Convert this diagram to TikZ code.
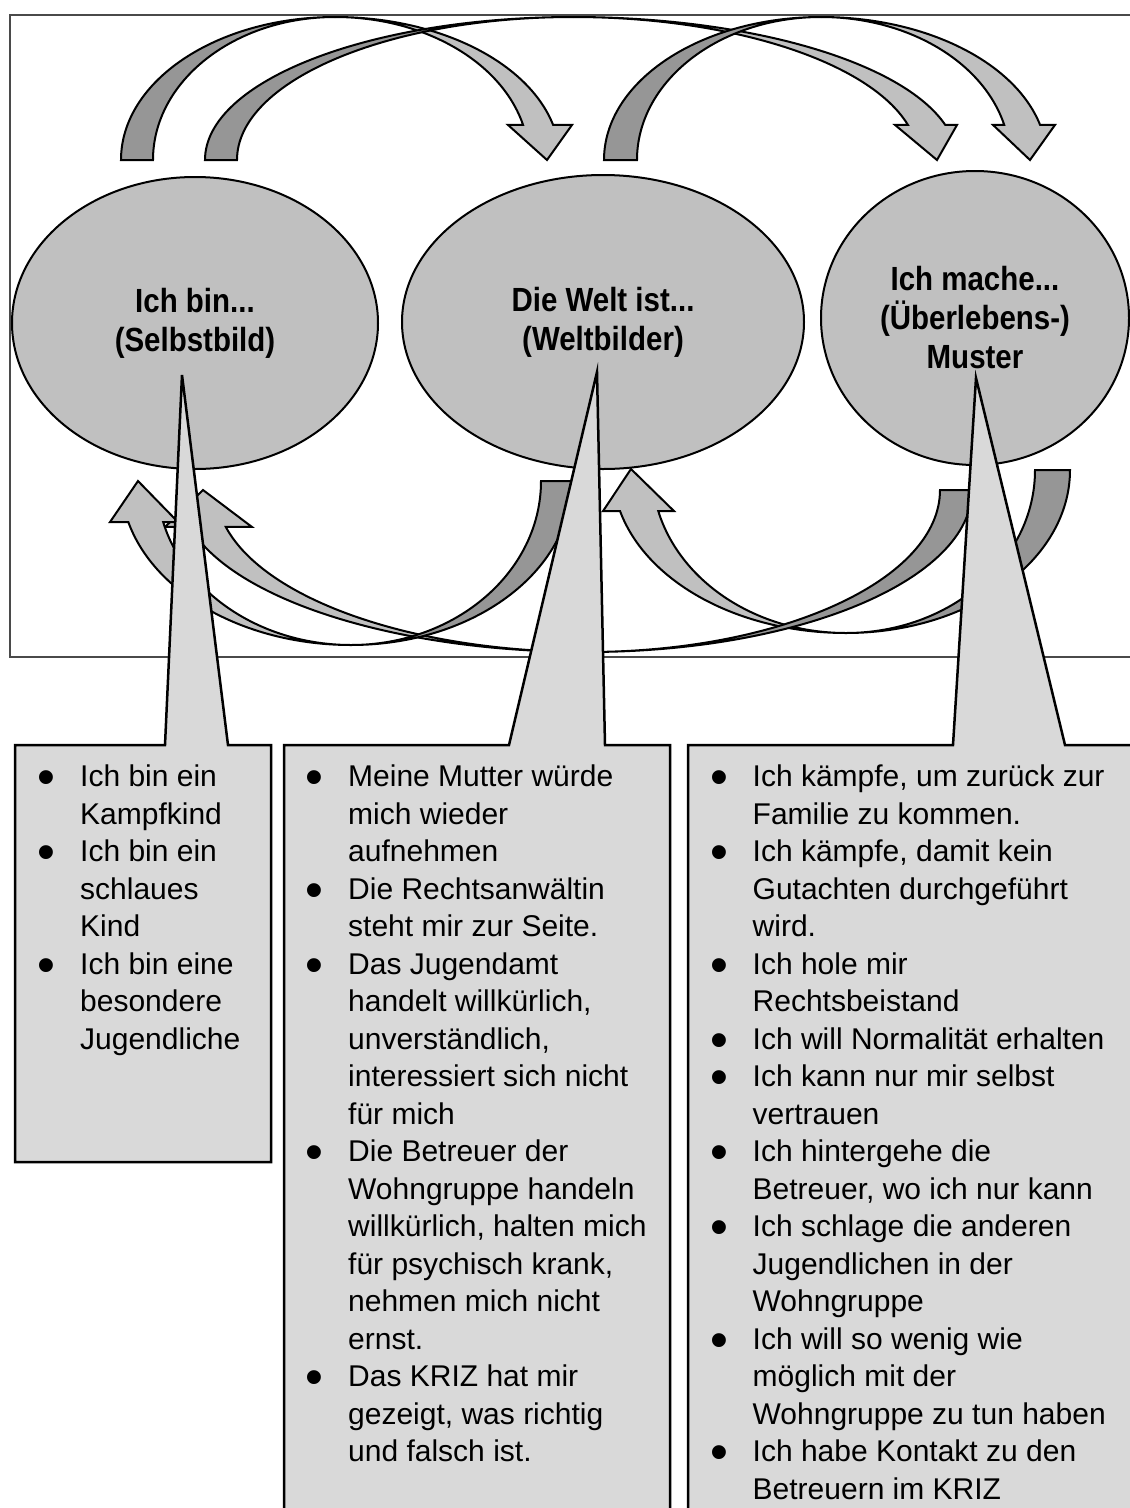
\documentclass[tikz,border=0pt]{standalone}
\usepackage{fontspec}
\usepackage{graphicx}
\setmainfont{Liberation Sans}
\newfontfamily\bubblefont[FakeStretch=0.88]{Liberation Sans}
\usetikzlibrary{shapes.geometric}

\definecolor{bandDark}{HTML}{969696}
\definecolor{bandLight}{HTML}{C0C0C0}
\definecolor{bubbleFill}{HTML}{C0C0C0}
\definecolor{noteFill}{HTML}{D9D9D9}
\definecolor{frameGray}{HTML}{4A4A4A}

% parameters of one curved block arrow (crescent back part + crescent front part with head)
\pgfkeys{
  /band/.is family, /band,
  cx/.store in=\bcx, cy/.store in=\bcy, ry/.store in=\bry,
  dark out/.store in=\bdo, dark in/.store in=\bdi,
  light out/.store in=\blo, light in/.store in=\bli,
  t0/.store in=\bta, tm/.store in=\btm, t1/.store in=\btb,
  head out/.store in=\bho, head in/.store in=\bhi,
  tip x/.store in=\btx, tip y/.store in=\bty
}

\newcommand\curvedband[1]{%
  \pgfkeys{/band,#1}%
  % darker back half, tapering to nothing at the turning point
  \filldraw[bandline, fill=bandDark]
    ({\bcx+\bdo*cos(\bta)},{\bcy+\bry*sin(\bta)})
    arc[start angle=\bta, end angle=\btm, x radius=\bdo, y radius=\bry]
    arc[start angle=\btm, end angle=\bta, x radius=\bdi, y radius=\bry]
    -- cycle;
  % lighter front half with the arrow head
  \filldraw[bandline, fill=bandLight]
    ({\bcx},{\bcy+\bry*sin(\btm)})
    arc[start angle=\btm, end angle=\btb, x radius=\blo, y radius=\bry]
    -- ({\bho},{\bcy+\bry*sin(\btb)})
    -- ({\btx},{\bty})
    -- ({\bhi},{\bcy+\bry*sin(\btb)})
    -- ({\bcx+\bli*cos(\btb)},{\bcy+\bry*sin(\btb)})
    arc[start angle=\btb, end angle=\btm, x radius=\bli, y radius=\bry]
    -- cycle;
}

\newcommand\bul{\makebox[42pt][l]{\hspace{-0.5pt}\smash{\raisebox{-8pt}{\scalebox{1.7}{•}}}}}

\begin{document}
\begin{tikzpicture}[x=1pt, y=-1pt,
  bandline/.style={draw=black, line width=2pt},
  frameline/.style={draw=frameGray, line width=2pt},
  bubble/.style={ellipse, draw=black, line width=2pt, fill=bubbleFill,
    inner sep=0pt, align=center, font=\bubblefont\bfseries\fontsize{33.5}{39}\selectfont},
  callout/.style={draw=black, line width=2.5pt, fill=noteFill},
  listtext/.style={inner sep=0pt, font=\fontsize{30}{37.5}\selectfont}]

\useasboundingbox (0,0) rectangle (1130,1508);
\clip (0,0) rectangle (1130,1508);
\fill[white] (0,0) rectangle (1130,1508);

% frame round the upper part
\draw[frameline] (1140,15) -- (10,15) -- (10,657) -- (1140,657);

% arrows bending over the top
\curvedband{cx=335, cy=160, ry=143, dark out=214, dark in=182, t0=180, tm=270,
  t1=345.8, light out=225, light in=194, head out=572, head in=508, tip x=547, tip y=160}
\curvedband{cx=573, cy=160, ry=143, dark out=368, dark in=336, t0=180, tm=270,
  t1=345.8, light out=384, light in=345.5, head out=957, head in=895, tip x=937, tip y=160}
\curvedband{cx=821, cy=160, ry=143, dark out=217, dark in=184, t0=180, tm=270,
  t1=345.8, light out=226, light in=189, head out=1055, head in=993, tip x=1030, tip y=160}

% the three ellipses
\node[bubble, minimum width=366pt, minimum height=292pt] (e1) at (195,323) {Ich bin...\\(Selbstbild)};
\node[bubble, minimum width=402pt, minimum height=294pt] (e2) at (603,322) {Die Welt ist...\\(Weltbilder)};
\node[bubble, minimum width=308pt, minimum height=294pt] (e3) at (975,318) {Ich mache...\\(Überlebens-)\\Muster};

% arrows bending underneath
\curvedband{cx=846, cy=470, ry=163, dark out=224, dark in=189, t0=0, tm=90,
  t1=165.4, light out=233.5, light in=194, head out=603, head in=674, tip x=631, tip y=469}
\curvedband{cx=587, cy=490, ry=162, dark out=385, dark in=353, t0=0, tm=90,
  t1=166.8, light out=408, light in=371, head out=165, head in=252, tip x=203, tip y=490}
\curvedband{cx=351, cy=481, ry=164, dark out=221, dark in=190, t0=0, tm=90,
  t1=165.5, light out=230, light in=194, head out=110, head in=178, tip x=138, tip y=481}

% callout boxes pointing into the ellipses
\coordinate (p1) at (182,375);
\coordinate (p2) at (597,372);
\coordinate (p3) at (976,378);
\draw[callout] (15,745) -- (165,745) -- (p1) -- (228,745) -- (271,745)
  -- (271,1162) -- (15,1162) -- cycle;
\draw[callout] (284,745) -- (509,745) -- (p2) -- (605,745) -- (670,745)
  -- (670,1530) -- (284,1530) -- cycle;
\draw[callout] (688,745) -- (953,745) -- (p3) -- (1065,745) -- (1150,745)
  -- (1150,1530) -- (688,1530) -- cycle;

% bullet lists
\node[listtext, anchor=base west] (n1) at (38,786.7) {%
\begin{tabular}[t]{@{}l@{}l@{}}
\bul & Ich bin ein\\
     & Kampfkind\\
\bul & Ich bin ein\\
     & schlaues\\
     & Kind\\
\bul & Ich bin eine\\
     & besondere\\
     & Jugendliche
\end{tabular}};

\node[listtext, anchor=base west] (n2) at (306,786.7) {%
\begin{tabular}[t]{@{}l@{}l@{}}
\bul & Meine Mutter würde\\
     & mich wieder\\
     & aufnehmen\\
\bul & Die Rechtsanwältin\\
     & steht mir zur Seite.\\
\bul & Das Jugendamt\\
     & handelt willkürlich,\\
     & unverständlich,\\
     & interessiert sich nicht\\
     & für mich\\
\bul & Die Betreuer der\\
     & Wohngruppe handeln\\
     & willkürlich, halten mich\\
     & für psychisch krank,\\
     & nehmen mich nicht\\
     & ernst.\\
\bul & Das KRIZ hat mir\\
     & gezeigt, was richtig\\
     & und falsch ist.
\end{tabular}};

\node[listtext, anchor=base west] (n3) at (710.5,786.7) {%
\begin{tabular}[t]{@{}l@{}l@{}}
\bul & Ich kämpfe, um zurück zur\\
     & Familie zu kommen.\\
\bul & Ich kämpfe, damit kein\\
     & Gutachten durchgeführt\\
     & wird.\\
\bul & Ich hole mir\\
     & Rechtsbeistand\\
\bul & Ich will Normalität erhalten\\
\bul & Ich kann nur mir selbst\\
     & vertrauen\\
\bul & Ich hintergehe die\\
     & Betreuer, wo ich nur kann\\
\bul & Ich schlage die anderen\\
     & Jugendlichen in der\\
     & Wohngruppe\\
\bul & Ich will so wenig wie\\
     & möglich mit der\\
     & Wohngruppe zu tun haben\\
\bul & Ich habe Kontakt zu den\\
     & Betreuern im KRIZ
\end{tabular}};

\end{tikzpicture}
\end{document}
